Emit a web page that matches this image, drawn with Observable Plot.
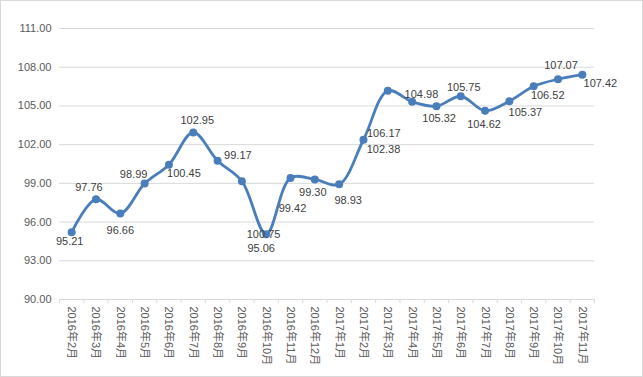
<!DOCTYPE html>
<html>
<head>
<meta charset="utf-8">
<script src="https://cdn.jsdelivr.net/npm/d3@7"></script>
<script src="https://cdn.jsdelivr.net/npm/@observablehq/plot@0.6"></script>
<style>
  html, body { margin: 0; padding: 0; background: #fff; }
  svg { display: block; outline: 1px solid #d9d9d9; outline-offset: -1px; }
</style>
</head>
<body>
<div id="chart"></div>
<script>
const months = ["2016年2月","2016年3月","2016年4月","2016年5月","2016年6月","2016年7月","2016年8月","2016年9月","2016年10月","2016年11月","2016年12月",
  "2017年1月","2017年2月","2017年3月","2017年4月","2017年5月","2017年6月","2017年7月","2017年8月","2017年9月","2017年10月","2017年11月"];
const values = [95.21,97.76,96.66,98.99,100.45,102.95,100.75,99.17,95.06,99.42,99.30,
  98.93,102.38,106.17,105.32,104.98,105.75,104.62,105.37,106.52,107.07,107.42];
const yTicks = [90,93,96,99,102,105,108,111];

// label placement (style only): pixel offsets of each data label from its point
const labelOffsets = [[-2,9],[-7,-12],[0,17],[-11,-9],[15,9],[4,-12],[46,74],[-4,-26],[-5,14],[2,31],[-2,13],
  [9,16],[20,10],[-4,43],[27,17],[-15,-12],[3,-9],[-1,14],[16,11],[14,9],[3,-14],[18,9]];

const data = months.map((m, i) => ({i, m, v: values[i]}));
const font = "'Liberation Sans','Noto Sans CJK SC',sans-serif";
const blue = "#4a7ebb";

const chart = Plot.plot({
  width: 643,
  height: 377,
  marginTop: 28,
  marginBottom: 78,
  marginLeft: 59,
  marginRight: 49,
  style: {fontFamily: font, fontSize: "11px", color: "#595959", background: "#fff"},
  x: {type: "linear", domain: [-0.5, months.length - 0.5]},
  y: {domain: [90, 111]},
  marks: [
    Plot.gridY(yTicks, {stroke: "#d9d9d9", strokeOpacity: 1}),
    Plot.axisY(yTicks, {tickSize: 0, tickPadding: 8, tickFormat: d => d.toFixed(2), fill: "#595959", label: null, fontSize: 11}),
    Plot.axisX(d3.range(months.length + 1).map(i => i - 0.5), {tickSize: 4, stroke: "#d9d9d9", tickFormat: () => "", label: null}),
    Plot.axisX(d3.range(months.length), {tickSize: 0, tickPadding: 7, tickRotate: 90, tickFormat: i => months[i], fill: "#595959", label: null, fontSize: 11}),
    Plot.ruleY([90], {stroke: "#d9d9d9"}),
    Plot.line(data, {x: "i", y: "v", stroke: blue, strokeWidth: 2.8, curve: "catmull-rom"}),
    Plot.dot(data, {x: "i", y: "v", r: 4, fill: blue}),
    ...data.map((d, k) => Plot.text([d], {
      x: "i", y: "v", text: e => e.v.toFixed(2),
      dx: labelOffsets[k][0], dy: labelOffsets[k][1],
      lineAnchor: "middle", textAnchor: "middle", fill: "#404040", fontSize: 11
    }))
  ]
});
document.getElementById("chart").appendChild(chart);
</script>
</body>
</html>
